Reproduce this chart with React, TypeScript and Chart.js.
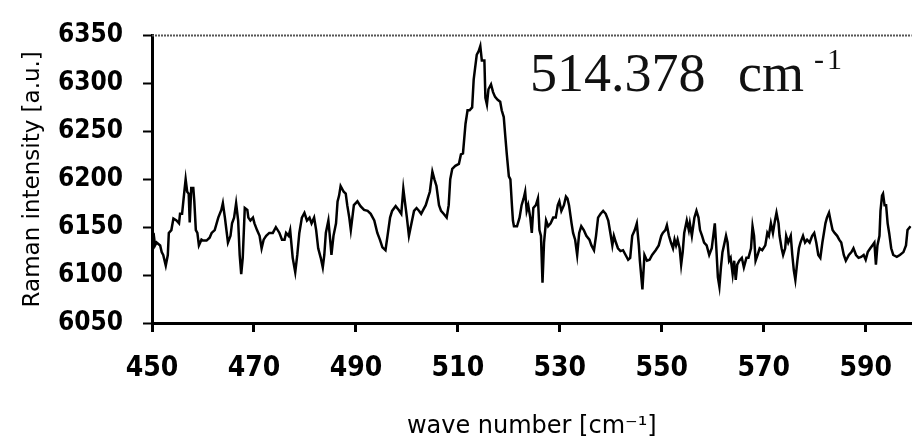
import React, { useEffect, useRef } from 'react';
import { Chart, registerables } from 'chart.js';

Chart.register(...registerables);

// Raman spectrum (wavenumber in cm^-1, intensity in a.u.)
const wavenumber = [
  450.3, 450.6, 450.9, 451.6, 451.9, 452.2, 452.7, 453.1, 453.3, 453.8, 454.2, 454.8, 455.3, 455.5, 455.9,
  456.3, 456.6, 456.9, 457.2, 457.4, 457.7, 458.1, 458.3, 458.6, 458.9, 459.2, 459.7, 460.0, 460.7, 461.3,
  461.7, 462.3, 463.0, 463.6, 463.9, 464.3, 464.6, 464.9, 465.4, 465.7, 466.1, 466.5, 466.9, 467.2, 467.5,
  467.8, 468.2, 468.7, 468.9, 469.3, 469.8, 470.1, 470.6, 471.1, 471.5, 471.9, 472.4, 473.0, 473.7, 474.3,
  475.0, 475.5, 476.0, 476.3, 476.8, 477.1, 477.6, 478.1, 478.5, 478.9, 479.4, 479.9, 480.4, 480.9, 481.3,
  481.8, 482.2, 482.6, 483.1, 483.5, 483.8, 484.1, 484.6, 485.0, 485.2, 485.6, 486.1, 486.4, 486.7, 487.0,
  487.6, 488.0, 488.3, 488.7, 489.0, 489.3, 489.6, 490.3, 490.9, 491.6, 492.3, 492.9,
  493.6, 494.2, 494.7, 495.2, 495.8, 496.2, 496.7, 497.1, 497.8, 498.4, 498.9, 499.3, 499.6, 500.0, 500.4,
  500.9, 501.4, 501.9, 502.4, 502.8, 503.2, 503.7, 504.1, 504.5, 505.0, 505.4, 505.8, 506.3, 506.7, 507.2,
  507.8, 508.2, 508.5, 508.9, 509.5, 510.2, 510.6, 511.0, 511.5, 511.9, 512.3, 512.8, 513.1, 513.4, 513.7,
  514.1, 514.4, 514.7, 515.2, 515.4, 515.7, 516.0, 516.5, 516.9, 517.3, 517.8, 518.3, 518.6, 519.0, 519.3,
  519.6, 520.0, 520.3, 520.6, 520.8, 521.0, 521.6, 522.1, 522.5, 522.9, 523.2, 523.5, 523.8, 524.2, 524.5,
  524.8, 525.3, 525.7, 526.0, 526.3, 526.6, 526.9, 527.3, 527.7, 528.2, 528.7, 529.2, 529.6, 529.9, 530.3,
  530.8, 531.2, 531.5, 531.8, 532.3, 532.6, 533.0, 533.4, 533.8, 534.2, 534.7, 535.2, 535.8, 536.2, 536.7,
  537.1, 537.5, 538.0, 538.5, 539.0, 539.5, 540.0, 540.3, 540.6, 541.0, 541.4, 541.9, 542.4, 542.9, 543.4,
  543.8, 544.2, 544.7, 545.1, 545.5, 545.7,
  546.2, 546.6, 547.1, 547.6, 548.1, 548.8, 549.4, 549.9, 550.2, 550.7, 551.0, 551.4, 551.8, 552.2, 552.5,
  552.8, 553.1, 553.5, 553.8, 554.1, 554.4, 554.9, 555.3, 555.5, 555.9, 556.4, 556.8, 557.2, 557.5, 557.9,
  558.3, 558.8, 559.3, 559.8, 560.1, 560.4, 560.7, 561.0, 561.3, 561.6, 561.9, 562.2, 562.6, 562.9, 563.2,
  563.5, 563.9, 564.2, 564.5, 564.8, 565.2, 565.7, 566.1, 566.6, 567.0, 567.5, 567.8, 568.1, 568.4, 568.8,
  569.2, 569.7, 570.3, 570.7, 571.0, 571.4, 571.8, 572.2, 572.5, 572.9, 573.1, 573.5, 573.8, 574.2, 574.4,
  574.8, 575.3, 575.6, 575.9, 576.2, 576.6, 576.9, 577.2, 577.7, 578.1, 578.5, 579.0, 579.5, 579.9, 580.3,
  580.7, 581.1, 581.5, 581.8, 582.1, 582.4, 582.8, 583.1, 583.5, 583.9, 584.4, 584.8, 585.2, 585.7, 586.1,
  586.7, 587.2, 587.6, 588.1, 588.6, 589.1, 589.6, 590.0, 590.4, 590.9, 591.3, 591.7, 592.0, 592.3, 592.7,
  592.9, 593.2, 593.4, 593.7, 594.0, 594.3, 594.6, 595.0, 595.4, 596.1, 596.7, 597.4, 597.9, 598.2, 598.8,
];

const intensity = [
  6144, 6131, 6134, 6131, 6124, 6121, 6110, 6121, 6144, 6147, 6159, 6157, 6154, 6164, 6164,
  6185, 6200, 6187, 6185, 6155, 6191, 6191, 6177, 6147, 6144, 6131, 6137, 6136, 6136, 6139,
  6144, 6147, 6160, 6168, 6175, 6160, 6147, 6134, 6141, 6154, 6160, 6175, 6157, 6121, 6101,
  6118, 6170, 6168, 6160, 6157, 6160, 6154, 6147, 6141, 6128, 6137, 6141, 6144, 6144, 6150,
  6144, 6137, 6137, 6144, 6141, 6147, 6118, 6103, 6121, 6144, 6160, 6165, 6157, 6160, 6154,
  6160, 6147, 6128, 6118, 6108, 6121, 6144, 6157, 6134, 6121, 6141, 6154, 6177, 6183, 6193,
  6187, 6185, 6173, 6160, 6147, 6160, 6173, 6177, 6172, 6168, 6167, 6164,
  6157, 6144, 6137, 6129, 6126, 6141, 6160, 6167, 6172, 6168, 6164, 6190, 6177, 6160, 6141,
  6154, 6167, 6170, 6167, 6164, 6168, 6173, 6180, 6187, 6208, 6200, 6193, 6173, 6167, 6164,
  6160, 6173, 6200, 6211, 6214, 6216, 6226, 6227, 6258, 6272, 6272, 6275, 6304, 6317, 6330,
  6334, 6339, 6324, 6324, 6285, 6278, 6294, 6299, 6291, 6286, 6283, 6281, 6272, 6265, 6245,
  6226, 6203, 6200, 6173, 6157, 6151, 6151, 6160, 6173, 6180, 6187, 6167, 6173, 6160, 6144,
  6170, 6173, 6180, 6147, 6141, 6092, 6134, 6157, 6151, 6154, 6160, 6160, 6173, 6177, 6167,
  6173, 6182, 6180, 6173, 6154, 6144, 6137, 6121, 6144, 6151, 6147, 6141, 6137, 6131, 6126,
  6141, 6160, 6164, 6167, 6164, 6157, 6141, 6131, 6141, 6134, 6128, 6125, 6126, 6121, 6116,
  6118, 6141, 6147, 6154, 6131, 6115,
  6085, 6121, 6115, 6116, 6121, 6126, 6131, 6141, 6144, 6147, 6152, 6141, 6134, 6128, 6137,
  6131, 6137, 6128, 6111, 6124, 6144, 6157, 6147, 6154, 6141, 6160, 6167, 6160, 6147, 6141,
  6134, 6131, 6121, 6128, 6141, 6154, 6128, 6098, 6088, 6108, 6124, 6131, 6141, 6134, 6115,
  6118, 6101, 6115, 6095, 6111, 6115, 6118, 6108, 6118, 6118, 6128, 6151, 6141, 6115, 6121,
  6128, 6126, 6131, 6144, 6141, 6154, 6144, 6157, 6165, 6154, 6141, 6128, 6121, 6128, 6141,
  6134, 6141, 6121, 6105, 6095, 6115, 6128, 6134, 6141, 6134, 6137, 6134, 6141, 6144, 6134,
  6121, 6118, 6134, 6144, 6154, 6160, 6165, 6157, 6147, 6144, 6141, 6137, 6134, 6121, 6115,
  6121, 6124, 6128, 6121, 6118, 6119, 6121, 6116, 6124, 6128, 6131, 6134, 6111, 6131, 6141,
  6167, 6183, 6185, 6173, 6173, 6154, 6144, 6128, 6121, 6119, 6121, 6124, 6131, 6147, 6151,
];

const xTickValues = [450, 470, 490, 510, 530, 550, 570, 590];
const yTickValues = [6050, 6100, 6150, 6200, 6250, 6300, 6350];
const xMin = 450;
const xMax = 599;
const yMin = 6050;
const yMax = 6350;

const xTitle = 'wave number [cm⁻¹]';
const yTitle = 'Raman intensity [a.u.]';
const peakValue = '514.378';
const peakUnit = 'cm';
const peakSupMinus = '-';
const peakSupOne = '1';

const tickFont = '"DejaVu Sans Condensed", "DejaVu Sans", sans-serif';

const overlayPlugin = {
  id: 'overlayPlugin',
  afterDraw(chart: any) {
    const { ctx, chartArea } = chart;
    ctx.save();
    // dotted top frame line
    ctx.strokeStyle = '#555';
    ctx.lineWidth = 2;
    ctx.setLineDash([2, 1]);
    ctx.beginPath();
    ctx.moveTo(chartArea.left, chartArea.top);
    ctx.lineTo(chartArea.right, chartArea.top);
    ctx.stroke();
    ctx.setLineDash([]);
    // peak annotation
    ctx.fillStyle = '#111';
    ctx.textAlign = 'left';
    ctx.textBaseline = 'alphabetic';
    const bx = chartArea.left + 378;
    const by = chartArea.top + 55;
    ctx.font = '54px "Liberation Serif", "Times New Roman", serif';
    ctx.fillText(peakValue, bx, by);
    ctx.fillText(peakUnit, bx + 208, by);
    ctx.font = '30px "Liberation Serif", "Times New Roman", serif';
    ctx.fillText(peakSupMinus, bx + 284, by - 22);
    ctx.fillText(peakSupOne, bx + 297, by - 22);
    ctx.restore();
  },
};

export default function App() {
  const canvasRef = useRef<HTMLCanvasElement | null>(null);

  useEffect(() => {
    document.body.style.margin = '0';
    const canvas = canvasRef.current;
    if (!canvas) return;
    const points = wavenumber.map((w, i) => ({ x: w, y: intensity[i] }));
    const chart = new Chart(canvas, {
      type: 'line',
      data: {
        datasets: [
          {
            data: points,
            borderColor: '#000',
            borderWidth: 2.5,
            pointRadius: 0,
            tension: 0,
            fill: false,
          },
        ],
      },
      options: {
        animation: false,
        responsive: false,
        maintainAspectRatio: false,
        layout: { padding: { top: 20, right: 0, left: 0, bottom: 0 } },
        plugins: {
          legend: { display: false },
          tooltip: { enabled: false },
        },
        scales: {
          x: {
            type: 'linear',
            min: xMin,
            max: xMax,
            afterBuildTicks: (scale: any) => {
              scale.ticks = xTickValues.map((v) => ({ value: v }));
            },
            afterFit: (scale: any) => {
              scale.height = 122;
            },
            grid: {
              display: true,
              drawOnChartArea: false,
              drawTicks: true,
              tickLength: 9,
              tickWidth: 3,
              tickColor: '#000',
            },
            border: { display: true, color: '#000', width: 3 },
            ticks: {
              color: '#000',
              padding: 20,
              maxRotation: 0,
              autoSkip: false,
              callback: (v: any) => String(v),
              font: { family: tickFont, size: 28, weight: 'bold' },
            },
            title: {
              display: true,
              text: xTitle,
              color: '#000',
              padding: { top: 0, bottom: 4 },
              font: { family: '"DejaVu Sans", sans-serif', size: 24 },
            },
          },
          y: {
            type: 'linear',
            min: yMin,
            max: yMax,
            afterBuildTicks: (scale: any) => {
              scale.ticks = yTickValues.map((v) => ({ value: v }));
            },
            afterFit: (scale: any) => {
              scale.width = 152;
            },
            grid: {
              display: true,
              drawOnChartArea: false,
              drawTicks: true,
              tickLength: 9,
              tickWidth: 2,
              tickColor: '#000',
            },
            border: { display: true, color: '#000', width: 3 },
            ticks: {
              color: '#000',
              padding: 20,
              callback: (v: any) => String(v),
              font: { family: tickFont, size: 26, weight: 'bold' },
            },
            title: {
              display: true,
              text: yTitle,
              color: '#000',
              padding: { top: 19, bottom: 0 },
              font: { family: '"DejaVu Sans", sans-serif', size: 23 },
            },
          },
        },
      },
      plugins: [overlayPlugin],
    });
    return () => {
      chart.destroy();
    };
  }, []);

  return (
    <div style={{ width: 912, height: 445, background: '#fff' }}>
      <canvas ref={canvasRef} width={912} height={445} style={{ display: 'block', width: 912, height: 445 }} />
    </div>
  );
}
